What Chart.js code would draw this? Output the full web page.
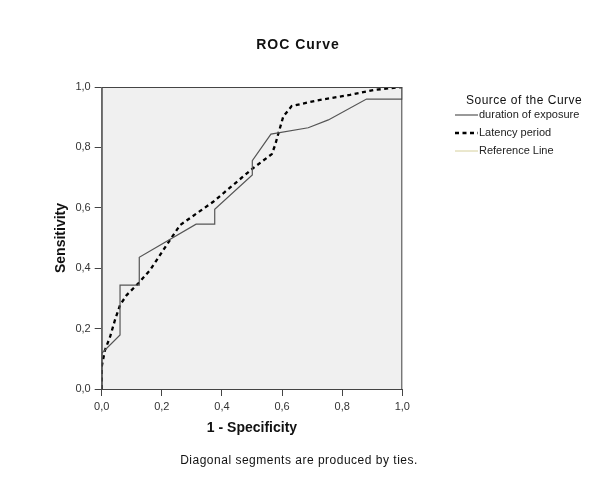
<!DOCTYPE html>
<html>
<head>
<meta charset="utf-8">
<title>ROC Curve</title>
<script src="https://cdn.jsdelivr.net/npm/chart.js@4"></script>
<style>
  html, body { margin: 0; padding: 0; background: #fff; }
  #wrap { width: 600px; height: 481px; }
</style>
</head>
<body>
<div id="wrap"><canvas id="rocChart" width="600" height="481"></canvas></div>
<script>
// ROC DATA
const exposureFpr = [0, 0, 0.061, 0.061, 0.125, 0.125, 0.314, 0.376, 0.376, 0.501, 0.501, 0.563, 0.687, 0.754, 0.881, 1.0, 1.0];
const exposureTpr = [0, 0.118, 0.179, 0.344, 0.344, 0.436, 0.546, 0.546, 0.595, 0.709, 0.756, 0.844, 0.865, 0.891, 0.96, 0.96, 1.0];

const latencyFpr = [0, 0, 0.011, 0.028, 0.044, 0.061, 0.083, 0.122, 0.161, 0.216, 0.261, 0.371, 0.502, 0.566, 0.577, 0.588, 0.604, 0.632, 0.715, 0.826, 0.904, 1.0];
const latencyTpr = [0, 0.074, 0.129, 0.173, 0.228, 0.278, 0.311, 0.35, 0.394, 0.477, 0.543, 0.62, 0.73, 0.778, 0.808, 0.847, 0.902, 0.937, 0.955, 0.974, 0.99, 1.0];

// reference line only shows up in the legend in the original
const referenceFpr = [];
const referenceTpr = [];

const tickLabels = ["0,0", "0,2", "0,4", "0,6", "0,8", "1,0"];
const seriesNames = ["duration of exposure", "Latency period", "Reference Line"];

function points(xs, ys) {
  return xs.map((x, i) => ({ x: x, y: ys[i] }));
}

const FONT = "'Liberation Sans', Arial, sans-serif";

// background, frame, title, legend, footnote
const decor = {
  id: "decor",
  beforeDatasetsDraw(chart) {
    const { ctx, chartArea: a } = chart;
    ctx.save();
    ctx.fillStyle = "#f0f0f0";
    ctx.fillRect(a.left, a.top, a.right - a.left, a.bottom - a.top);
    ctx.restore();
  },
  afterDraw(chart) {
    const { ctx, chartArea: a } = chart;
    ctx.save();
    ctx.strokeStyle = "#444";
    ctx.lineWidth = 1;
    ctx.strokeRect(a.left + 0.5, a.top + 0.5, a.right - a.left - 1, a.bottom - a.top);

    ctx.fillStyle = "#111";
    ctx.textBaseline = "middle";
    ctx.textAlign = "center";
    ctx.letterSpacing = "1px";
    ctx.font = "bold 14px " + FONT;
    ctx.fillText("ROC Curve", 298, 45);

    ctx.letterSpacing = "0.5px";
    ctx.font = "12px " + FONT;
    ctx.fillText("Diagonal segments are produced by ties.", 299, 461);

    // legend
    ctx.textAlign = "left";
    ctx.fillText("Source of the Curve", 466, 101);
    ctx.letterSpacing = "0px";
    ctx.font = "11px " + FONT;
    chart.data.datasets.forEach((ds, i) => {
      const y = 115 + i * 18;
      ctx.beginPath();
      ctx.strokeStyle = ds.borderColor;
      ctx.lineWidth = ds.borderWidth;
      ctx.setLineDash(ds.borderDash || []);
      ctx.moveTo(455, y);
      ctx.lineTo(478, y);
      ctx.stroke();
      ctx.setLineDash([]);
      ctx.fillStyle = "#222";
      ctx.fillText(ds.label, 479, y);
    });
    ctx.restore();
  }
};

const axisCommon = {
  type: "linear",
  min: 0,
  max: 1,
  grid: { drawOnChartArea: false, drawTicks: true, tickLength: 7, color: "#444" },
  border: { display: true, color: "#444" },
  ticks: {
    stepSize: 0.2,
    padding: 4,
    color: "#333",
    font: { family: FONT, size: 11 },
    callback: (v, i) => tickLabels[i]
  }
};

new Chart(document.getElementById("rocChart"), {
  type: "scatter",
  data: {
    datasets: [
      {
        label: seriesNames[0],
        data: points(exposureFpr, exposureTpr),
        showLine: true,
        borderColor: "#555",
        borderWidth: 1.2,
        pointRadius: 0,
        tension: 0
      },
      {
        label: seriesNames[1],
        data: points(latencyFpr, latencyTpr),
        showLine: true,
        borderColor: "#000",
        borderWidth: 2.3,
        borderDash: [4, 3.5],
        pointRadius: 0,
        tension: 0
      },
      {
        label: seriesNames[2],
        data: points(referenceFpr, referenceTpr),
        showLine: true,
        borderColor: "#d6d09c",
        borderWidth: 1,
        pointRadius: 0
      }
    ]
  },
  options: {
    responsive: false,
    animation: false,
    layout: { padding: { left: 48, right: 197.7, top: 87, bottom: 40 } },
    plugins: {
      legend: { display: false },
      tooltip: { enabled: false }
    },
    scales: {
      x: {
        ...axisCommon,
        position: "bottom",
        afterFit: (s) => { s.height = 52; },
        title: {
          display: true,
          text: "1 - Specificity",
          color: "#111",
          padding: 4,
          font: { family: FONT, size: 14, weight: "bold" }
        }
      },
      y: {
        ...axisCommon,
        position: "left",
        afterFit: (s) => { s.width = 53.7; },
        title: {
          display: true,
          text: "Sensitivity",
          color: "#111",
          padding: 5,
          font: { family: FONT, size: 14, weight: "bold" }
        }
      }
    }
  },
  plugins: [decor]
});
</script>
</body>
</html>
